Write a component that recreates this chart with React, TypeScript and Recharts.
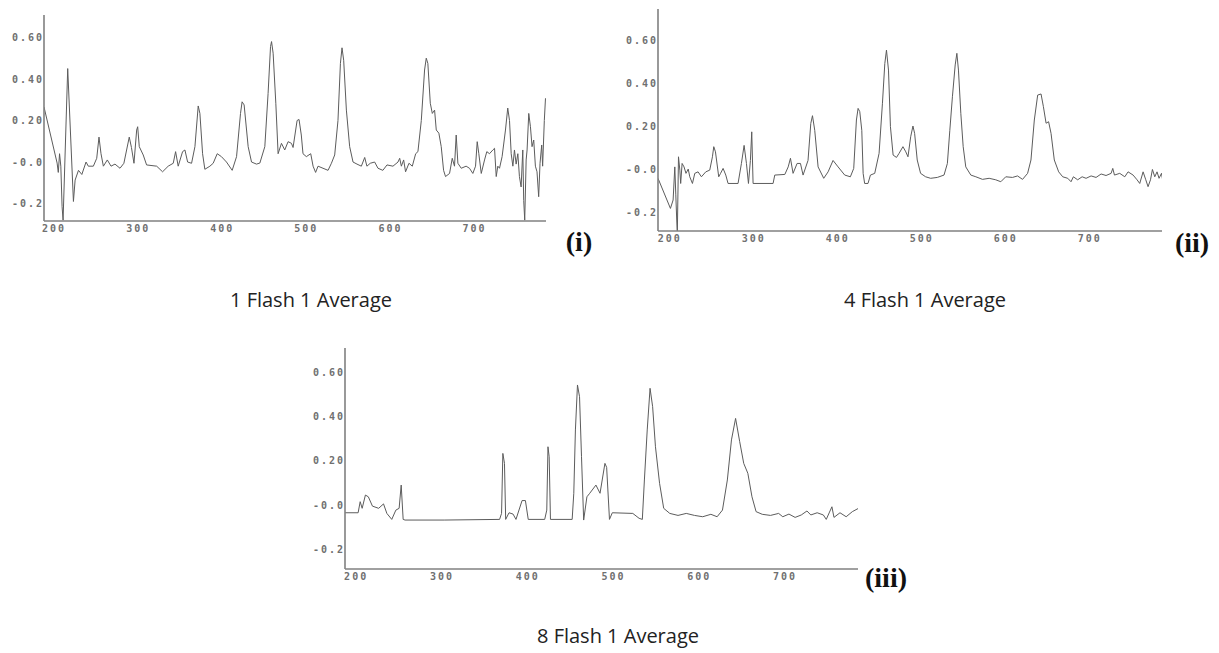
import React from "react";
import { LineChart, Line, XAxis, YAxis } from "recharts";

// ---- Data: wavelength (nm) and absorbance for each acquisition ----
const wl1 = [188, 203.6, 205, 206.5, 208, 209.5, 210.7, 216.2, 223, 225, 229, 233, 238, 240.7, 246.7, 250.7, 253.4, 255.8, 258.6, 263.3, 267.7, 272.4, 278.4, 283, 289.4, 292, 295, 298.2, 299.4, 301.3, 306, 310, 322, 329, 335.7, 341.7, 344.5, 347.6, 352.8, 355.6, 358.8, 363.5, 367.5, 371.4, 373.4, 376.6, 379.3, 385.3, 389.2, 394, 399, 405, 411.8, 417, 421.7, 423.6, 426, 430.8, 434.8, 440.7, 444.7, 450.6, 454.5, 457.4, 458.6, 460.5, 463.7, 466.4, 470.4, 474.3, 478.3, 482.3, 484.2, 489, 491.3, 494, 496, 500, 505.2, 508, 511, 513.9, 519.8, 525.8, 529.8, 533.7, 537.6, 540.5, 542.4, 544.4, 547.6, 551.5, 555.5, 560.2, 565.4, 569.4, 572, 576, 581.2, 585.2, 591, 595.9, 603, 609, 611, 613, 615.7, 618, 622, 626, 630, 632.7, 636.7, 640.6, 642.6, 644.5, 647.4, 649.8, 652.5, 654.5, 657.6, 660.4, 663.2, 665.5, 670.3, 673.5, 676.2, 678.2, 680.2, 684.2, 690, 694, 698, 701.2, 703.2, 705.1, 708, 711.9, 714.6, 717.8, 721.8, 723.8, 725.8, 727.7, 729.7, 732.8, 736.8, 739.5, 741.6, 743.6, 745.6, 747.5, 749.5, 751.5, 753.4, 755.4, 757.4, 758.5, 759.7, 761.4, 762.5, 764.5, 766.5, 768.4, 770.4, 772.4, 774.3, 776.3, 777.9, 779.9, 781, 783, 784.4];
const abs1 = [0.265, -0.005, -0.05, 0.04, -0.02, -0.215, -0.28, 0.45, -0.19, -0.087, -0.04, -0.06, 0.0, -0.02, -0.02, 0.018, 0.12, 0.04, -0.02, 0.01, -0.02, -0.01, -0.03, -0.006, 0.12, 0.07, -0.006, 0.154, 0.17, 0.074, 0.034, -0.014, -0.02, -0.047, -0.02, -0.006, 0.05, -0.02, 0.05, 0.058, 0.0, -0.006, 0.074, 0.27, 0.234, 0.04, -0.035, -0.02, -0.006, 0.04, 0.026, 0.0, -0.04, 0.026, 0.234, 0.29, 0.275, 0.074, 0.0, -0.01, -0.005, 0.074, 0.33, 0.556, 0.58, 0.524, 0.283, 0.04, 0.09, 0.058, 0.098, 0.09, 0.07, 0.2, 0.205, 0.13, 0.04, 0.026, 0.04, -0.02, -0.05, -0.02, -0.03, -0.04, -0.006, 0.034, 0.2, 0.475, 0.55, 0.49, 0.25, 0.074, 0.0, -0.01, -0.02, 0.022, -0.02, -0.006, 0.0, -0.03, -0.04, -0.014, -0.02, 0.0, 0.018, -0.02, 0.01, -0.047, -0.006, -0.02, 0.04, 0.05, 0.2, 0.443, 0.5, 0.475, 0.283, 0.234, 0.25, 0.154, 0.139, 0.074, -0.04, -0.07, -0.055, 0.018, -0.02, 0.13, -0.006, -0.03, -0.02, -0.03, -0.055, -0.02, 0.098, 0.04, -0.055, 0.01, 0.05, 0.04, 0.058, 0.066, -0.07, -0.02, -0.03, 0.026, 0.154, 0.26, 0.2, 0.04, -0.02, 0.058, -0.01, 0.04, -0.07, -0.12, 0.058, -0.185, -0.28, 0.01, 0.058, 0.234, 0.17, 0.074, 0.106, -0.02, -0.047, -0.167, -0.006, 0.082, -0.02, 0.2, 0.307];

const wl2 = [186, 200.8, 204, 206, 207.2, 208.3, 209, 210.4, 212, 213, 214.7, 217, 219.3, 222, 223.8, 227, 229.8, 233.7, 237.7, 242.9, 247.6, 250.8, 252.4, 254.4, 258.3, 260.5, 263.5, 266.7, 269.4, 281.3, 285.3, 288.5, 291.3, 293.7, 296, 297.6, 299.2, 323, 325, 337, 341, 343.7, 346.8, 351.6, 355.6, 358.7, 364.6, 367.9, 369.9, 372.6, 376.6, 383.3, 388.5, 394.4, 400.4, 408.3, 415, 419, 422.2, 424.2, 426.2, 428.6, 430.2, 432, 436, 438.9, 444, 449.2, 453.2, 456, 458, 460.4, 462.7, 465.9, 469.9, 473, 477.6, 481, 483.6, 486.8, 489.5, 491.5, 494.6, 498.6, 504.6, 510.6, 518.5, 526.5, 530.5, 533.4, 536.5, 539.8, 541.8, 543.7, 546.5, 549.3, 552.4, 558.4, 564.4, 572.3, 580.2, 588.1, 594.1, 600, 608, 614, 620, 626, 630, 634, 638, 642, 644.8, 648, 651, 653.9, 657.8, 663, 667.8, 673.8, 677.7, 680.5, 685.6, 690.9, 695.6, 701.6, 707.5, 713.5, 719.4, 725.4, 727.4, 729.4, 735.7, 741.7, 745.6, 751.6, 756.3, 759.5, 763.5, 766.7, 769.4, 772.3, 774.6, 777.4, 780.1, 782.5, 785.4, 787];
const abs2 = [-0.043, -0.183, -0.144, 0.01, -0.12, -0.237, -0.3, 0.057, -0.005, -0.067, 0.026, 0.01, -0.02, 0.0, -0.036, -0.067, -0.02, -0.013, -0.036, -0.013, -0.005, 0.057, 0.104, 0.08, -0.036, -0.02, 0.003, -0.028, -0.067, -0.067, 0.026, 0.11, 0.026, -0.067, 0.04, 0.173, -0.067, -0.067, -0.028, -0.025, 0.01, 0.05, -0.02, 0.026, 0.026, -0.028, 0.04, 0.212, 0.248, 0.18, 0.01, -0.043, -0.013, 0.04, 0.01, -0.028, -0.036, 0.003, 0.228, 0.282, 0.267, 0.18, -0.02, -0.067, -0.067, -0.028, -0.02, 0.073, 0.306, 0.49, 0.553, 0.46, 0.197, 0.065, 0.054, 0.073, 0.104, 0.08, 0.057, 0.15, 0.2, 0.166, 0.042, -0.02, -0.036, -0.043, -0.039, -0.028, 0.026, 0.18, 0.336, 0.484, 0.538, 0.46, 0.259, 0.104, 0.01, -0.028, -0.036, -0.048, -0.043, -0.05, -0.059, -0.036, -0.039, -0.032, -0.048, -0.02, 0.042, 0.228, 0.344, 0.349, 0.29, 0.213, 0.22, 0.166, 0.042, -0.013, -0.036, -0.043, -0.059, -0.036, -0.05, -0.036, -0.043, -0.032, -0.039, -0.023, -0.03, -0.02, 0.003, -0.028, -0.02, -0.036, -0.013, -0.028, -0.05, -0.067, -0.013, -0.05, -0.082, -0.05, -0.002, -0.036, -0.013, -0.043, -0.02, -0.055];

const wl3 = [187, 202.3, 204.7, 207, 210.8, 214.2, 219, 226.2, 231.9, 235.8, 241.5, 246.3, 250.1, 252.5, 254.8, 257, 302.6, 367.2, 369.5, 371, 372.9, 374.3, 378.2, 382.9, 386.3, 393.4, 397.3, 400.6, 419.8, 422.2, 423.6, 425, 426.5, 451.8, 453.7, 455.6, 458, 460.4, 462.7, 465.2, 469, 472.3, 479.5, 484.3, 490, 492, 495.3, 498.6, 522.5, 529.8, 533.6, 536, 539.3, 542.6, 545.6, 548.9, 553.7, 558.5, 565.6, 575.2, 584.8, 594.4, 604, 613.5, 620.8, 627, 632.7, 637.5, 642.3, 647.1, 651.8, 656.6, 661.4, 666.2, 673.4, 683, 692.5, 697.3, 704.5, 711.7, 718.9, 725.5, 730, 737.4, 744.6, 748, 751.8, 754.6, 757, 764, 771.2, 778.4, 785.6];
const abs3 = [-0.035, -0.035, 0.015, -0.015, 0.045, 0.037, -0.005, -0.015, 0.005, -0.038, -0.065, -0.023, -0.015, 0.09, -0.065, -0.068, -0.068, -0.065, -0.038, 0.233, 0.188, -0.065, -0.035, -0.041, -0.065, 0.02, 0.02, -0.065, -0.065, -0.023, 0.263, 0.218, -0.065, -0.065, 0.053, 0.339, 0.542, 0.489, 0.218, -0.068, 0.037, 0.053, 0.09, 0.053, 0.188, 0.17, -0.065, -0.035, -0.038, -0.06, -0.065, 0.113, 0.339, 0.527, 0.444, 0.263, 0.098, -0.015, -0.038, -0.047, -0.038, -0.047, -0.053, -0.042, -0.053, -0.023, 0.113, 0.294, 0.391, 0.286, 0.188, 0.143, 0.037, -0.03, -0.042, -0.047, -0.038, -0.053, -0.041, -0.056, -0.045, -0.027, -0.045, -0.035, -0.045, -0.065, -0.032, -0.008, -0.056, -0.035, -0.053, -0.03, -0.015];

const xTicks = [200, 300, 400, 500, 600, 700];
const yTicks = [-0.2, 0, 0.2, 0.4, 0.6];
const yTickLabels = ["-0.2", "-0.0", "0.20", "0.40", "0.60"];

const captions = ["1 Flash 1 Average", "4 Flash 1 Average", "8 Flash 1 Average"];
const panelTags = ["(i)", "(ii)", "(iii)"];

const zip = (xs: number[], ys: number[]) => xs.map((x, i) => ({ wl: x, a: ys[i] }));

const Y_W = 40;
const X_H = 30;
const M_TOP = 5;
const M_RIGHT = 5;

type PanelProps = {
  data: { wl: number; a: number }[];
  plotLeft: number;
  plotTop: number;
  plotRight: number;
  plotBottom: number;
  xDomain: [number, number];
  yDomain: [number, number];
};

const tickStyle = {
  fontFamily: "'DejaVu Sans Mono', monospace",
  fontWeight: 700,
  fontSize: 10,
  fill: "#707070",
  letterSpacing: 2,
};

function Panel({ data, plotLeft, plotTop, plotRight, plotBottom, xDomain, yDomain }: PanelProps) {
  const plotW = plotRight - plotLeft;
  const plotH = plotBottom - plotTop;
  const width = Y_W + plotW + M_RIGHT;
  const height = M_TOP + plotH + X_H;
  return (
    <div style={{ position: "absolute", left: plotLeft - Y_W, top: plotTop - M_TOP, width, height }}>
      <LineChart width={width} height={height} data={data} margin={{ top: M_TOP, right: M_RIGHT, left: 0, bottom: 0 }}>
        <XAxis
          dataKey="wl"
          type="number"
          domain={xDomain}
          ticks={xTicks}
          allowDataOverflow
          height={X_H}
          tickLine={false}
          tickSize={0}
          tickMargin={4}
          axisLine={{ stroke: "#808080", strokeWidth: 1.6 }}
          tick={tickStyle}
        />
        <YAxis
          type="number"
          domain={yDomain}
          ticks={yTicks}
          allowDataOverflow
          width={Y_W}
          tickLine={false}
          tickSize={0}
          tickMargin={0}
          axisLine={{ stroke: "#808080", strokeWidth: 1.6 }}
          tick={tickStyle}
          tickFormatter={(v: number) => {
            const i = yTicks.findIndex((t) => Math.abs(t - v) < 1e-9);
            return i >= 0 ? yTickLabels[i] : "";
          }}
        />
        <Line
          type="linear"
          dataKey="a"
          stroke="#5c5c5c"
          strokeWidth={1}
          dot={false}
          isAnimationActive={false}
        />
      </LineChart>
    </div>
  );
}

const captionStyle: React.CSSProperties = {
  position: "absolute",
  width: 300,
  textAlign: "center",
  fontFamily: "'Open Sans', sans-serif",
  fontSize: 20,
  lineHeight: "30px",
  color: "#222",
};

const tagStyle: React.CSSProperties = {
  position: "absolute",
  fontFamily: "'Liberation Serif', serif",
  fontWeight: 700,
  fontSize: 28,
  lineHeight: "32px",
  color: "#111",
  width: 70,
  textAlign: "center",
};

export default function App() {
  return (
    <div style={{ position: "absolute", left: 0, top: 0, width: 1219, height: 653, background: "#fff", overflow: "hidden" }}>
      <Panel data={zip(wl1, abs1)} plotLeft={44} plotTop={15} plotRight={546} plotBottom={221} xDomain={[188, 785]} yDomain={[-0.284, 0.708]} />
      <Panel data={zip(wl2, abs2)} plotLeft={658} plotTop={9} plotRight={1162} plotBottom={231} xDomain={[186, 786]} yDomain={[-0.288, 0.744]} />
      <Panel data={zip(wl3, abs3)} plotLeft={345} plotTop={348} plotRight={858} plotBottom={569} xDomain={[187, 785]} yDomain={[-0.289, 0.709]} />

      <div style={{ ...tagStyle, left: 579 - 35, top: 242 - 16 }}>{panelTags[0]}</div>
      <div style={{ ...tagStyle, left: 1192 - 35, top: 243 - 16 }}>{panelTags[1]}</div>
      <div style={{ ...tagStyle, left: 886 - 35, top: 578 - 16 }}>{panelTags[2]}</div>

      <div style={{ ...captionStyle, left: 311 - 150, top: 300 - 15 }}>{captions[0]}</div>
      <div style={{ ...captionStyle, left: 925 - 150, top: 300 - 15 }}>{captions[1]}</div>
      <div style={{ ...captionStyle, left: 618 - 150, top: 636 - 15 }}>{captions[2]}</div>
    </div>
  );
}
